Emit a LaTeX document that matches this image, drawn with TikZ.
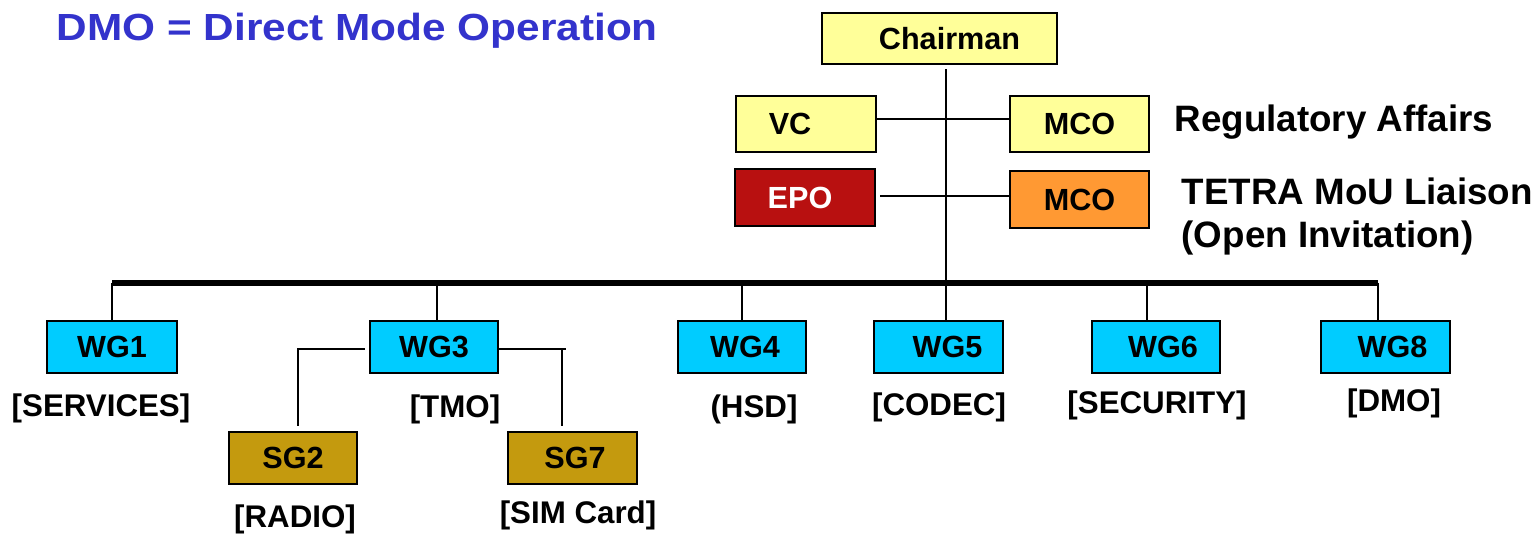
\documentclass[tikz,border=0pt]{standalone}
\usepackage{fontspec}
\setmainfont{Liberation Sans}
\newfontfamily\headfont[FakeStretch=1.12]{Liberation Sans}
\usetikzlibrary{positioning}

\definecolor{wgblue}{HTML}{00CCFF}
\definecolor{sggold}{HTML}{C49A0E}
\definecolor{offyel}{HTML}{FFFF99}
\definecolor{epored}{HTML}{B81010}
\definecolor{mcoorange}{HTML}{FF9933}
\definecolor{headblue}{HTML}{3333CC}

\begin{document}
\begin{tikzpicture}[x=0.01cm, y=-0.01cm, font=\bfseries,
  box/.style={draw, line width=0.8pt, inner sep=0pt, minimum width=1.29cm,
              minimum height=0.52cm, font=\fontsize{8.7}{10}\selectfont\bfseries},
  wg/.style={box, fill=wgblue},
  sg/.style={box, fill=sggold},
  off/.style={box, fill=offyel, minimum width=1.4cm, minimum height=0.56cm},
  tag/.style={inner sep=0pt, font=\fontsize{8.9}{10}\selectfont\bfseries},
  side/.style={inner sep=0pt, align=left, font=\fontsize{10.45}{11.95}\selectfont\bfseries},
  lead/.style={line width=0.6pt},
  bus/.style={line width=1.5pt}]
\useasboundingbox (0,0) rectangle (1537,535);
% heading
\node[anchor=base west, inner sep=0pt, text=headblue,
      font=\headfont\fontsize{10.75}{12}\selectfont\bfseries] (head) at (56,40)
  {DMO = Direct Mode Operation};
% chairman and officers
\node[off, minimum width=2.35cm, minimum height=0.51cm] (chair) at (939.5,38.5) {\hspace*{0.2cm}Chairman};
\node[off] (vc) at (806,124) {VC\hspace*{0.32cm}};
\node[off, minimum width=1.39cm] (mcoA) at (1079.5,124) {MCO};
\node[off, fill=epored, text=white, minimum height=0.57cm] (epo) at (805,197.5) {EPO\hspace*{0.1cm}};
\node[off, fill=mcoorange, minimum width=1.39cm, minimum height=0.57cm] (mcoB) at (1079.5,199.5) {MCO};
\node[side, anchor=base west] (reg) at (1174,131) {Regulatory Affairs};
\node[side, anchor=base west] (mou) at (1181,247) {TETRA MoU Liaison\\(Open Invitation)};
% working groups
\node[wg, minimum width=1.3cm] (wg1) at (112,347) {WG1};
\node[wg, minimum width=1.28cm] (wg3) at (434,347) {WG3};
\node[wg, minimum width=1.28cm] (wg4) at (742,347) {\hspace*{0.06cm}WG4};
\node[wg] (wg5) at (938.5,347) {\hspace*{0.18cm}WG5};
\node[wg, minimum width=1.28cm] (wg6) at (1156,347) {\hspace*{0.14cm}WG6};
\node[wg] (wg8) at (1385.5,347) {\hspace*{0.14cm}WG8};
% sub groups under WG3
\node[sg, minimum width=1.28cm] (sg2) at (293,458) {SG2};
\node[sg] (sg7) at (572.5,458) {\hspace*{0.05cm}SG7};
% remits
\node[tag] (t1) at (101,408) {[SERVICES]};
\node[tag] (t3) at (455,409) {[TMO]};
\node[tag] (t4) at (754,409) {(HSD]};
\node[tag] (t5) at (939,407) {[CODEC]};
\node[tag] (t6) at (1157,405) {[SECURITY]};
\node[tag] (t8) at (1394,403) {[DMO]};
\node[tag] (ts2) at (295,519) {[RADIO]};
\node[tag] (ts7) at (578,515) {[SIM Card]};
% officer links
\coordinate (spine) at ([xshift=0.065cm]chair.south);
\draw[lead] ([yshift=-0.04cm]spine) -- (spine |- wg5.north);
\draw[lead] ([yshift=0.05cm]vc.east) -- ([yshift=0.05cm]mcoA.west);
\draw[lead] ([xshift=0.04cm,yshift=0.015cm]epo.east) -- ([yshift=0.015cm]epo.east -| mcoB.west);
% bus to the working groups
\coordinate (rail) at (0,283);
\draw[bus] (wg1.north |- rail) -- ([xshift=-0.075cm]wg8.north |- rail);
\draw[lead] (wg1.north) -- (wg1.north |- rail);
\draw[lead] ([xshift=0.03cm]wg3.north) -- ([xshift=0.03cm]wg3.north |- rail);
\draw[lead] (wg4.north) -- (wg4.north |- rail);
\draw[lead] ([xshift=-0.09cm]wg6.north) -- ([xshift=-0.09cm]wg6.north |- rail);
\draw[lead] ([xshift=-0.075cm]wg8.north) -- ([xshift=-0.075cm]wg8.north |- rail);
% WG3 to its sub groups
\draw[lead] ([xshift=-0.04cm,yshift=-0.02cm]wg3.west) -| ([xshift=0.05cm,yshift=0.05cm]sg2.north);
\draw[lead] ([yshift=-0.02cm]wg3.east) -- ([xshift=-0.065cm,yshift=-0.02cm]sg7.north |- wg3.east);
\draw[lead] ([xshift=-0.105cm,yshift=-0.02cm]sg7.north |- wg3.east) -- ([xshift=-0.105cm,yshift=0.05cm]sg7.north);
\end{tikzpicture}
\end{document}
